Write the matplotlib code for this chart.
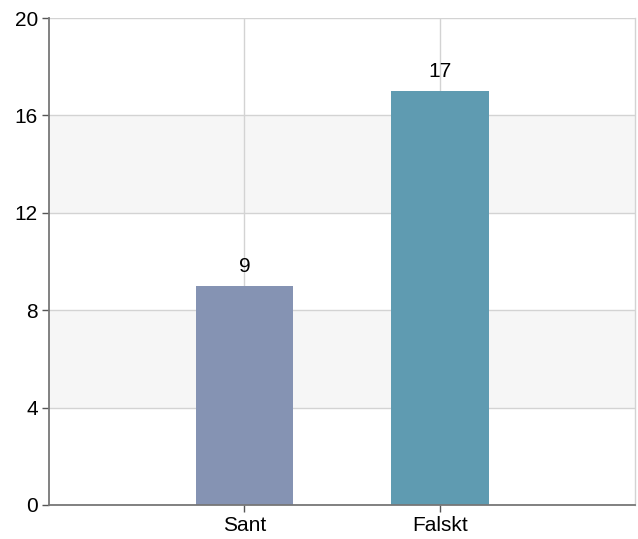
import matplotlib
matplotlib.use("Agg")
import matplotlib.pyplot as plt

categories = ["Sant", "Falskt"]
values = [9, 17]
bar_colors = ["#8593B3", "#5F9BB1"]
y_ticks = [0, 4, 8, 12, 16, 20]

plt.rcParams["font.family"] = ["Liberation Sans", "DejaVu Sans"]

fig = plt.figure(figsize=(6.38, 5.39), dpi=100)
ax = fig.add_axes([49 / 638, 1 - 505 / 539, 586 / 638, 487 / 539])

ax.set_xlim(-1, 2)
ax.set_ylim(0, 20)

# alternating horizontal bands
for lo in (4, 12):
    ax.axhspan(lo, lo + 4, color="#F6F6F6", zorder=0, lw=0)

ax.set_yticks(y_ticks)
ax.set_xticks(range(len(categories)))
ax.set_xticklabels(categories)
ax.grid(True, color="#D3D3D3", lw=1, zorder=0.5)
ax.set_axisbelow(True)

x = list(range(len(categories)))
bars = ax.bar(x, values, width=0.5, color=bar_colors, zorder=2)
for xi, v in zip(x, values):
    ax.annotate(str(v), (xi, v), xytext=(0, 7), textcoords="offset points",
                ha="center", va="bottom", fontsize=15, color="#000000")

for side in ("left", "bottom"):
    ax.spines[side].set_color("#777777")
    ax.spines[side].set_linewidth(1.3)
ax.spines["top"].set_visible(False)
ax.spines["right"].set_color("#D3D3D3")
ax.spines["right"].set_linewidth(1)

ax.tick_params(axis="both", direction="out", length=5, width=1, color="#555555",
               labelsize=15, labelcolor="#000000", pad=3)

fig.savefig("out.png", dpi=100)
